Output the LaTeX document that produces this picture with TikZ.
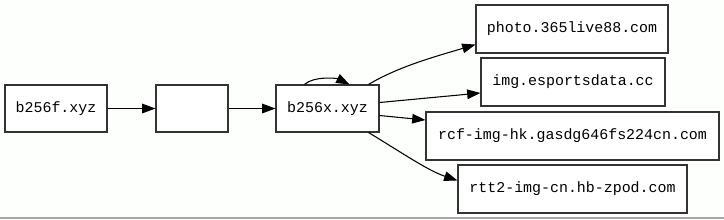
\documentclass[tikz,border=0pt]{standalone}
\usepackage{fontspec}
\setmonofont{Liberation Mono}
\usetikzlibrary{arrows.meta,calc}
\begin{document}
\begin{tikzpicture}[x=0.75pt,y=-0.75pt,
  box/.style={draw=black!80,line width=0.8pt,fill=white,inner sep=0pt,
    font=\fontsize{11.2}{13}\selectfont\ttfamily},
  edge/.style={draw=black,line width=0.8pt,-{Triangle[length=10pt,width=7.2pt]}}]
\fill[white!97!green!30] (0,0) rectangle (724,219);
\useasboundingbox (0,0) rectangle (724,219);
\draw[gray!70,line width=1.2pt] (0,218) -- (724,218);
\node[box,minimum width=76.5pt,minimum height=35.25pt] (f) at (56,108.5) {b256f.xyz};
\node[box,minimum width=54pt,minimum height=35.25pt] (e) at (192,108.5) {};
\node[box,minimum width=77.25pt,minimum height=35.25pt] (x) at (327.5,108.5) {b256x.xyz};
\node[box,minimum width=144pt,minimum height=36pt] (p) at (572,29) {photo.365live88.com};
\node[box,minimum width=138pt,minimum height=36pt] (i) at (573,82) {img.esportsdata.cc};
\node[box,minimum width=219.75pt,minimum height=36pt] (r) at (572.5,136) {rcf-img-hk.gasdg646fs224cn.com};
\node[box,minimum width=171.75pt,minimum height=36pt] (t) at (572.5,189) {rtt2-img-cn.hb-zpod.com};
\draw[edge] (f) -- (e);
\draw[edge] (e) -- (x);
\draw[edge] ($(x.north west)+(29,0)$) .. controls +(10,-9) and +(-12,-6) .. ($(x.north west)+(74,0)$);
\draw[edge] ($(x.north east)+(-11,0)$) .. controls +(30,-18) and +(-40,12) .. ($(p.south west)+(0,-9)$);
\draw[edge] ($(x.east)+(0,-6)$) -- ($(i.west)+(0,11)$);
\draw[edge] ($(x.east)+(0,7)$) -- ($(r.west)+(0,-16)$);
\draw[edge] ($(x.south east)+(-11,0)$) .. controls +(30,18) and +(-30,-10) .. ($(t.north west)+(0,16)$);
\end{tikzpicture}
\end{document}
